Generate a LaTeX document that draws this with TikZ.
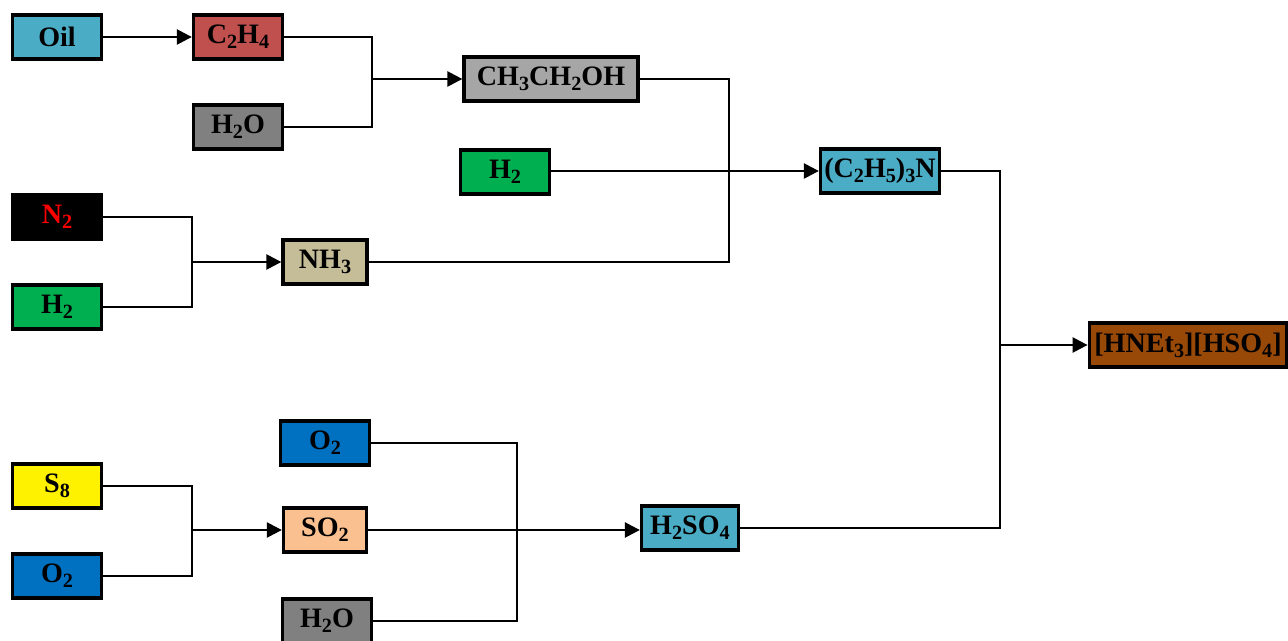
\documentclass[tikz,border=0pt]{standalone}
\usepackage{fontspec}
\setmainfont{Liberation Serif}
\usetikzlibrary{positioning,arrows.meta}

\definecolor{tealblue}{HTML}{4BACC6}
\definecolor{brickred}{HTML}{C0504D}
\definecolor{watergray}{HTML}{808080}
\definecolor{lightgray2}{HTML}{A6A6A6}
\definecolor{hgreen}{HTML}{00B050}
\definecolor{khaki}{HTML}{C4BD97}
\definecolor{oblue}{HTML}{0070C0}
\definecolor{peach}{HTML}{FAC090}
\definecolor{rust}{HTML}{984807}

% lowered subscript, as in the figure
\newcommand{\sbs}[1]{\raisebox{-0.4ex}{\fontsize{11.5}{13}\selectfont #1}}

\tikzset{
  box/.style={rectangle, draw, line width=1.9pt, minimum width=1.78cm, minimum height=0.88cm, inner sep=1pt, font=\bfseries\fontsize{16}{19}\selectfont},
  link/.style={line width=1.4pt},
  feed/.style={link, -{Triangle[length=0.3cm,width=0.3cm]}}
}

\begin{document}
\begin{tikzpicture}[x=0.02cm,y=-0.02cm]
\useasboundingbox (0,0) rectangle (1288,641);

% ethanol branch
\node[box, fill=tealblue] (oil) at (57,37) {Oil};
\node[box, fill=brickred] (ethene) at (238,37) {C\sbs{2}H\sbs{4}};
\node[box, fill=watergray] (watera) at (238,127) {H\sbs{2}O};
\node[box, fill=lightgray2, minimum width=3.48cm] (ethanol) at (551,79) {CH\sbs{3}CH\sbs{2}OH};
\node[box, fill=hgreen] (hydroa) at (505,172) {H\sbs{2}};

% ammonia branch
\node[box, fill=black, text=red] (nitro) at (57,217) {N\sbs{2}};
\node[box, fill=hgreen] (hydrob) at (57,307) {H\sbs{2}};
\node[box, fill=khaki, minimum width=1.68cm] (ammonia) at (325,262) {NH\sbs{3}};
\node[box, fill=tealblue, minimum width=2.38cm] (amine) at (880,171) {(C\sbs{2}H\sbs{5})\sbs{3}N};

% sulfuric acid branch
\node[box, fill=yellow] (sulfur) at (57,486) {S\sbs{8}};
\node[box, fill=oblue] (oxya) at (57,576) {O\sbs{2}};
\node[box, fill=oblue] (oxyb) at (325,443) {O\sbs{2}};
\node[box, fill=peach, minimum width=1.66cm] (sdiox) at (325,530) {SO\sbs{2}};
\node[box, fill=watergray] (waterb) at (327,621) {H\sbs{2}O};
\node[box, fill=tealblue, minimum width=1.94cm] (acid) at (690,528) {H\sbs{2}SO\sbs{4}};

% product
\node[box, fill=rust, minimum width=3.95cm] (salt) at (1188,345) {[HNEt\sbs{3}][HSO\sbs{4}]};

% junctions
\coordinate (ja) at (372,79);
\coordinate (jb) at (729,171);
\coordinate (jc) at (192,262);
\coordinate (jd) at (192,530);
\coordinate (je) at (517,530);
\coordinate (jf) at (1000,345);

\draw[feed] (oil) -- (ethene);
\draw[link] (ethene.east) -| (ja) |- (watera.east);
\draw[feed] (ja) -- (ethanol);
\draw[link] (nitro.east) -| (jc) |- (hydrob.east);
\draw[feed] (jc) -- (ammonia);
\draw[link] (ethanol.east) -| (jb) |- (ammonia.east);
\draw[feed] (hydroa.east |- amine.west) -- (amine.west);
\draw[link] (sulfur.east) -| (jd) |- (oxya.east);
\draw[feed] (jd) -- (sdiox);
\draw[link] (oxyb.east) -| (je) |- (waterb.east);
\draw[feed] (sdiox.east) -- (acid.west |- sdiox.east);
\draw[link] (amine.east) -| (jf) |- (acid.east);
\draw[feed] (jf) -- (salt);
\end{tikzpicture}
\end{document}
